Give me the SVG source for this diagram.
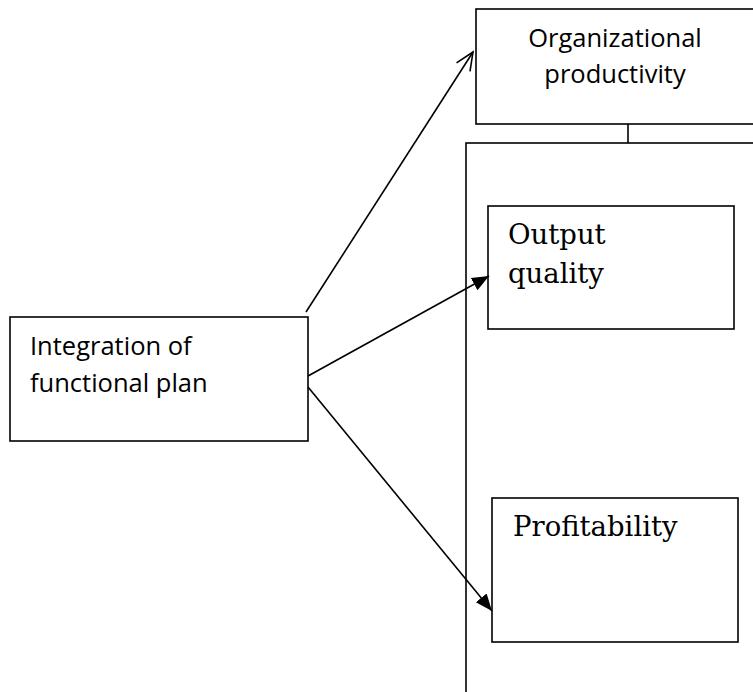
<svg xmlns="http://www.w3.org/2000/svg" width="753" height="692" viewBox="0 0 753 692">
<style>
.box{fill:#fff;stroke:#000;stroke-width:1.6}
.sans{font-family:"Open Sans","Liberation Sans",sans-serif;font-size:25.5px;fill:#000}
.serif{font-family:"DejaVu Serif","Liberation Serif",serif;font-size:27.5px;fill:#000}
.conn{fill:none;stroke:#000;stroke-width:1.6}
</style>
<defs>
<marker id="fill" markerUnits="userSpaceOnUse" markerWidth="18" markerHeight="16" refX="17" refY="8" orient="auto">
<path d="M0,1 L17,8 L0,15 Z" fill="#000"/>
</marker>
<marker id="open" markerUnits="userSpaceOnUse" markerWidth="22" markerHeight="22" refX="19" refY="11" orient="auto">
<path d="M1,3 L19,11 L1,19" fill="none" stroke="#000" stroke-width="1.6"/>
</marker>
</defs>
<rect width="753" height="692" fill="#fff"/>
<g id="container">
<rect class="box" x="466" y="143" width="300" height="560"/>
</g>
<g id="org">
<rect class="box" x="476" y="9" width="290" height="115"/>
<text class="sans" x="615" y="47" text-anchor="middle">Organizational</text>
<text class="sans" x="615" y="83" text-anchor="middle">productivity</text>
</g>
<g id="integration">
<rect class="box" x="10" y="317" width="298" height="124"/>
<text class="sans" x="30" y="355">Integration of</text>
<text class="sans" x="30" y="392">functional plan</text>
</g>
<g id="output">
<rect class="box" x="488" y="206" width="246" height="123"/>
<text class="serif" x="508" y="244">Output</text>
<text class="serif" x="508" y="283">quality</text>
</g>
<g id="profit">
<rect class="box" x="492" y="498" width="246" height="144"/>
<text class="serif" x="513" y="536">Profitability</text>
</g>
<g id="connectors">
<line class="conn" x1="628" y1="124" x2="628" y2="143"/>
<line class="conn" x1="306" y1="312" x2="473" y2="52" marker-end="url(#open)"/>
<line class="conn" x1="308" y1="376" x2="489" y2="276" marker-end="url(#fill)"/>
<line class="conn" x1="308" y1="387" x2="492" y2="611" marker-end="url(#fill)"/>
</g>
</svg>
